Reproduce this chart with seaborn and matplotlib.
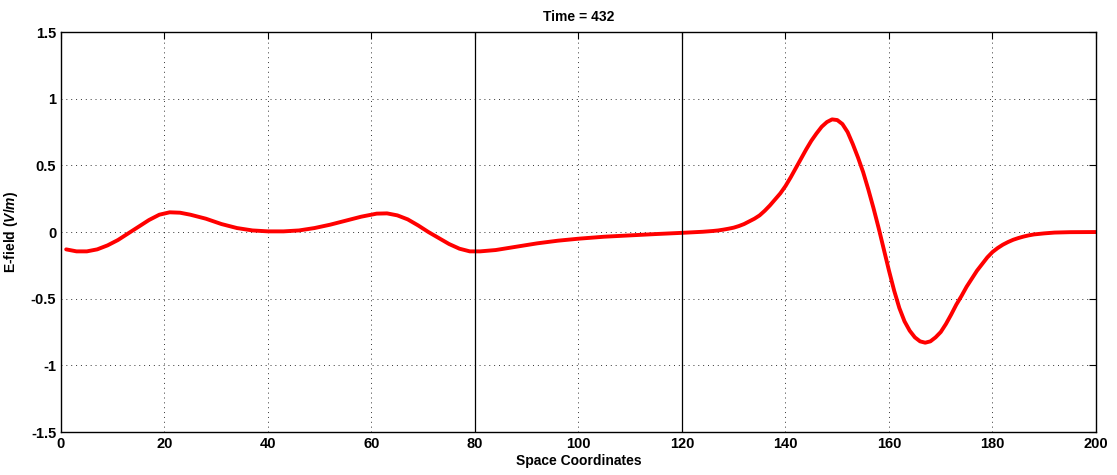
import numpy as np
import pandas as pd
import matplotlib
matplotlib.use('Agg')
import matplotlib.pyplot as plt
import seaborn as sns

# E-field snapshot
space = [1, 3, 5, 7, 9, 11, 13, 15, 17, 19, 21, 23, 25, 28, 31, 34, 37, 40, 43, 46,
         49, 52, 55, 58, 61, 63, 65, 67, 69, 71, 73, 75, 77, 79, 81, 84, 88, 92, 96, 100,
         105, 110, 115, 120, 121, 122, 123, 124, 125, 126, 127, 128, 129, 130, 131, 132,
         133, 134, 135, 136, 137, 138, 139, 140, 141, 142, 143, 144, 145, 146, 147, 148,
         149, 150, 151, 152, 153, 154, 155, 156, 157, 158, 159, 160, 161, 162, 163, 164,
         165, 166, 167, 168, 169, 170, 171, 172, 173, 174, 175, 176, 177, 178, 179, 180,
         181, 182, 183, 184, 185, 186, 187, 188, 190, 192, 195, 200]
efield = [-0.13, -0.145, -0.145, -0.13, -0.10, -0.06, -0.01, 0.04, 0.09, 0.13, 0.148,
          0.145, 0.13, 0.10, 0.06, 0.03, 0.012, 0.005, 0.005, 0.012, 0.03, 0.055, 0.085,
          0.115, 0.138, 0.14, 0.125, 0.095, 0.05, 0.0, -0.045, -0.09, -0.125, -0.145,
          -0.145, -0.135, -0.11, -0.085, -0.065, -0.05, -0.035, -0.025, -0.015, -0.006,
          -0.004, -0.002, 0.0, 0.002, 0.005, 0.008, 0.012, 0.018, 0.025, 0.033, 0.045,
          0.06, 0.08, 0.10, 0.125, 0.16, 0.20, 0.245, 0.29, 0.345, 0.41, 0.48, 0.55,
          0.62, 0.685, 0.74, 0.79, 0.825, 0.845, 0.84, 0.81, 0.75, 0.66, 0.56, 0.45,
          0.32, 0.18, 0.03, -0.13, -0.29, -0.44, -0.57, -0.67, -0.74, -0.79, -0.82,
          -0.83, -0.82, -0.79, -0.75, -0.69, -0.62, -0.545, -0.48, -0.41, -0.35, -0.29,
          -0.24, -0.19, -0.15, -0.12, -0.095, -0.075, -0.058, -0.045, -0.034, -0.025,
          -0.018, -0.01, -0.004, -0.001, 0.0]
boundaries = [80, 120]
xticks = [0, 20, 40, 60, 80, 100, 120, 140, 160, 180, 200]
yticks = [-1.5, -1, -0.5, 0, 0.5, 1, 1.5]
ytick_labels = ['-1.5', '-1', '-0.5', '0', '0.5', '1', '1.5']

sns.set_style('white')
plt.rcParams['font.family'] = ['Liberation Sans', 'DejaVu Sans']
plt.rcParams['font.weight'] = 'bold'
plt.rcParams['text.color'] = 'black'
plt.rcParams['axes.labelcolor'] = 'black'
plt.rcParams['mathtext.fontset'] = 'custom'
plt.rcParams['mathtext.it'] = 'Liberation Sans:italic:bold'
plt.rcParams['mathtext.rm'] = 'Liberation Sans:bold'

df = pd.DataFrame({'x': space, 'E': efield})

fig = plt.figure(figsize=(11.17, 4.75), dpi=100)
ax = fig.add_axes([0.0546, 0.0905, 0.9266, 0.842])

sns.lineplot(data=df, x='x', y='E', color='red', linewidth=2.8, ax=ax)

for b in boundaries:
    ax.axvline(b, color='black', linewidth=0.9)

ax.set_xlim(0, 200)
ax.set_ylim(-1.5, 1.5)
ax.set_xticks(xticks)
ax.set_yticks(yticks)
ax.set_yticklabels(ytick_labels)
ax.grid(True, linestyle=(0, (1, 4)), color='black', linewidth=0.7, alpha=0.8)
ax.tick_params(direction='in', top=True, right=True, length=5, width=0.8,
               labelsize=10.5, colors='black')
for lbl in ax.get_xticklabels() + ax.get_yticklabels():
    lbl.set_fontweight('bold')
for s in ax.spines.values():
    s.set_color('black')
    s.set_linewidth(1.0)

ax.set_title('Time = 432', fontsize=10, fontweight='bold', pad=8)
ax.set_xlabel('Space Coordinates', fontsize=10, fontweight='bold', labelpad=2)
ax.set_ylabel(r'E-field $\mathit{(V/m)}$', fontsize=10, fontweight='bold', labelpad=8)

fig.savefig('out.png', dpi=100)
